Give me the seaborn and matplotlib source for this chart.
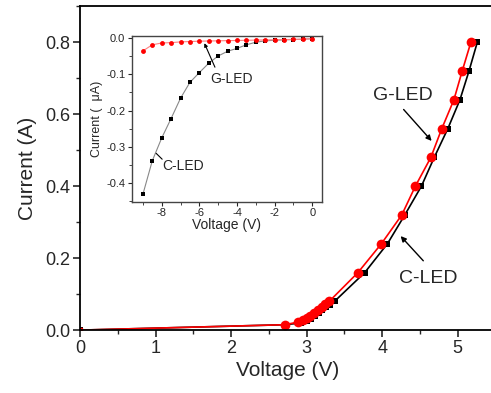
import numpy as np
import pandas as pd
import matplotlib
matplotlib.use("Agg")
import matplotlib.pyplot as plt
import seaborn as sns
from matplotlib.ticker import MultipleLocator

# main I-V curves (forward bias)
g_volt = [0, 2.71, 2.88, 2.95, 3.00, 3.05, 3.10, 3.15, 3.20, 3.25, 3.30,
          3.68, 3.99, 4.26, 4.44, 4.645, 4.79, 4.95, 5.06, 5.175]
g_curr = [0, 0.015, 0.022, 0.028, 0.034, 0.040, 0.048, 0.056, 0.064, 0.072, 0.080,
          0.16, 0.24, 0.32, 0.40, 0.48, 0.56, 0.64, 0.72, 0.80]
c_volt = [0, 2.71, 2.93, 3.00, 3.06, 3.11, 3.16, 3.21, 3.26, 3.31, 3.37,
          3.77, 4.07, 4.30, 4.52, 4.69, 4.87, 5.03, 5.15, 5.26]
c_curr = [0, 0.015, 0.020, 0.026, 0.032, 0.039, 0.047, 0.055, 0.063, 0.071, 0.080,
          0.16, 0.24, 0.32, 0.40, 0.48, 0.56, 0.64, 0.72, 0.80]

# inset (reverse bias, uA)
inset_volt = [-9, -8.5, -8, -7.5, -7, -6.5, -6, -5.5, -5, -4.5,
              -4, -3.5, -3, -2.5, -2, -1.5, -1, -0.5, 0]
inset_c = [-0.432, -0.339, -0.276, -0.222, -0.166, -0.122, -0.095, -0.069, -0.049, -0.036,
           -0.028, -0.018, -0.011, -0.007, -0.0055, -0.0045, -0.0035, -0.0025, -0.0012]
inset_g = [-0.035, -0.018, -0.013, -0.012, -0.010, -0.009, -0.008, -0.0075, -0.007, -0.0065,
           -0.006, -0.0055, -0.005, -0.0045, -0.004, -0.0035, -0.003, -0.0025, -0.0012]

sns.set_style("ticks")
plt.rcParams['font.family'] = ['Liberation Sans', 'DejaVu Sans']

fig = plt.figure(figsize=(4.91, 3.93), dpi=100)
ax = fig.add_axes([0.163, 0.160, 0.846, 0.824])

df_c = pd.DataFrame({'V': c_volt, 'I': c_curr})
df_g = pd.DataFrame({'V': g_volt, 'I': g_curr})

sns.lineplot(data=df_c, x='V', y='I', sort=False, estimator=None, color='black',
             lw=1.2, marker='s', markersize=5, markeredgewidth=0, ax=ax)
sns.lineplot(data=df_g.iloc[1:], x='V', y='I', sort=False, estimator=None, color='red',
             lw=1.2, marker='o', markersize=7, markeredgewidth=0, ax=ax)
sns.lineplot(data=df_g.iloc[:2], x='V', y='I', sort=False, estimator=None, color='red',
             lw=1.2, ax=ax)
ax.plot(df_g['V'][:1], df_g['I'][:1], 's', color='red', ms=3)

ax.set_xlim(0, 5.5)
ax.set_ylim(0, 0.9)
ax.xaxis.set_major_locator(MultipleLocator(1))
ax.xaxis.set_minor_locator(MultipleLocator(0.5))
ax.yaxis.set_major_locator(MultipleLocator(0.2))
ax.yaxis.set_minor_locator(MultipleLocator(0.1))
ax.set_xticks([0, 1, 2, 3, 4, 5])
ax.set_xticklabels(['0', '1', '2', '3', '4', '5'])
ax.set_yticks([0, 0.2, 0.4, 0.6, 0.8])
ax.set_yticklabels(['0.0', '0.2', '0.4', '0.6', '0.8'])
ax.tick_params(which='major', length=5, width=1.2, labelsize=13, pad=2)
ax.tick_params(which='minor', length=3, width=1.0)
ax.spines['right'].set_visible(False)
for s in ['left', 'bottom', 'top']:
    ax.spines[s].set_linewidth(1.3)
    ax.spines[s].set_color('black')
ax.set_xlabel('Voltage (V)', fontsize=15, labelpad=3)
ax.set_ylabel('Current (A)', fontsize=15, labelpad=6)

ax.text(4.28, 0.651, 'G-LED', fontsize=14, ha='center', va='center')
ax.annotate('', xy=(4.68, 0.520), xytext=(4.26, 0.619),
            arrowprops=dict(arrowstyle='-|>', color='black', lw=1.0, mutation_scale=8))
ax.text(4.61, 0.144, 'C-LED', fontsize=14, ha='center', va='center')
ax.annotate('', xy=(4.22, 0.267), xytext=(4.57, 0.187),
            arrowprops=dict(arrowstyle='-|>', color='black', lw=1.0, mutation_scale=8))

# inset
axi = fig.add_axes([0.268, 0.487, 0.387, 0.422])
df_ic = pd.DataFrame({'V': inset_volt, 'I': inset_c})
df_ig = pd.DataFrame({'V': inset_volt, 'I': inset_g})
sns.lineplot(data=df_ic, x='V', y='I', sort=False, estimator=None, color='#888888',
             lw=0.8, ax=axi)
axi.plot(df_ic['V'], df_ic['I'], 's', color='black', ms=3, mew=0)
sns.lineplot(data=df_ig, x='V', y='I', sort=False, estimator=None, color='#ff8080',
             lw=0.8, ax=axi)
axi.plot(df_ig['V'], df_ig['I'], 'o', color='red', ms=3.5, mew=0)

axi.set_xlim(-9.6, 0.5)
axi.set_ylim(-0.452, 0.007)
axi.set_xticks([-8, -6, -4, -2, 0])
axi.set_xticklabels(['-8', '-6', '-4', '-2', '0'])
axi.xaxis.set_minor_locator(MultipleLocator(1))
axi.set_yticks([0, -0.1, -0.2, -0.3, -0.4])
axi.set_yticklabels(['0.0', '-0.1', '-0.2', '-0.3', '-0.4'])
axi.yaxis.set_minor_locator(MultipleLocator(0.05))
axi.tick_params(which='major', length=3, width=0.8, labelsize=8, pad=1.5)
axi.tick_params(which='minor', length=2, width=0.6)
for s in axi.spines.values():
    s.set_linewidth(1.0)
    s.set_color('#444444')
axi.set_xlabel('Voltage (V)', fontsize=10, labelpad=0)
axi.set_ylabel('Current (  μA)', fontsize=9, labelpad=2)

axi.text(-4.31, -0.113, 'G-LED', fontsize=10, ha='center', va='center')
axi.annotate('', xy=(-5.79, -0.0066), xytext=(-5.11, -0.087),
             arrowprops=dict(arrowstyle='-|>', color='black', lw=0.8, mutation_scale=5))
axi.text(-6.89, -0.354, 'C-LED', fontsize=10, ha='center', va='center')
axi.annotate('', xy=(-8.4, -0.313), xytext=(-7.87, -0.340),
             arrowprops=dict(arrowstyle='-', color='black', lw=0.8))

fig.savefig('out.png', dpi=100)
